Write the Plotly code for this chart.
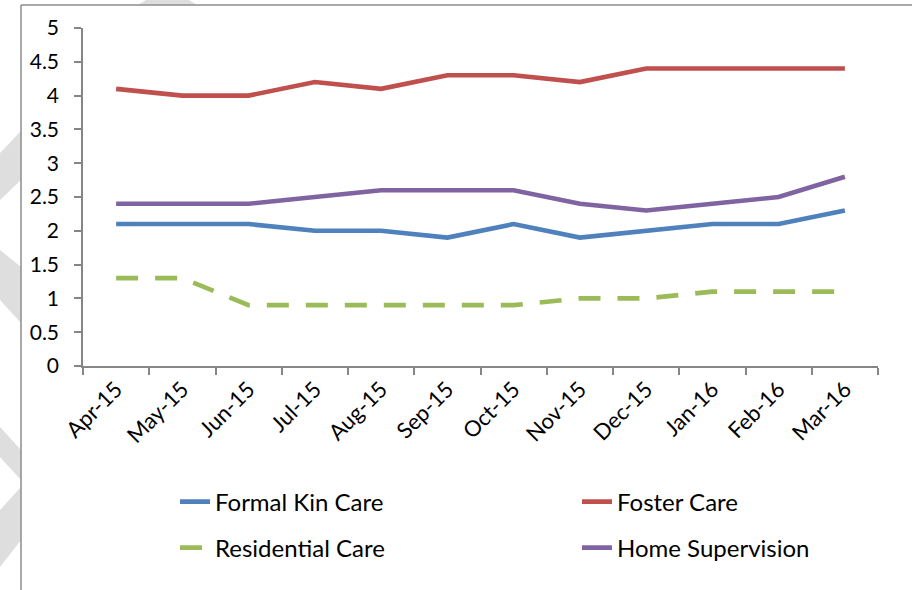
import plotly.graph_objects as go

# ---- data ----
months = ["Apr-15", "May-15", "Jun-15", "Jul-15", "Aug-15", "Sep-15",
          "Oct-15", "Nov-15", "Dec-15", "Jan-16", "Feb-16", "Mar-16"]
formal_kin_care = [2.1, 2.1, 2.1, 2.0, 2.0, 1.9, 2.1, 1.9, 2.0, 2.1, 2.1, 2.3]
foster_care = [4.1, 4.0, 4.0, 4.2, 4.1, 4.3, 4.3, 4.2, 4.4, 4.4, 4.4, 4.4]
residential_care = [1.3, 1.3, 0.9, 0.9, 0.9, 0.9, 0.9, 1.0, 1.0, 1.1, 1.1, 1.1]
home_supervision = [2.4, 2.4, 2.4, 2.5, 2.6, 2.6, 2.6, 2.4, 2.3, 2.4, 2.5, 2.8]
y_ticks = [0, 0.5, 1, 1.5, 2, 2.5, 3, 3.5, 4, 4.5, 5]
y_tick_text = ["0", "0.5", "1", "1.5", "2", "2.5", "3", "3.5", "4", "4.5", "5"]

# ---- layout geometry (pixels) ----
W, H = 912, 590
PL, PR, PT, PB = 83, 878, 28, 366
FONT = "Lato, 'Open Sans', sans-serif"
AXIS_COL = "#868686"
STRIPE = "#dedede"


def px(xp):
    return (xp - PL) / (PR - PL)


def py(yp):
    return (PB - yp) / (PB - PT)


fig = go.Figure()
series = [
    ("Formal Kin Care", formal_kin_care, "#4F81BD", "solid", "legend", 175, 502),
    ("Foster Care", foster_care, "#C0504D", "solid", "legend2", 577, 502),
    ("Residential Care", residential_care, "#9BBB59", "22px,17px", "legend3", 175, 548),
    ("Home Supervision", home_supervision, "#8064A2", "solid", "legend4", 577, 548),
]
legend_common = dict(
    orientation="h", xref="container", yref="container",
    xanchor="left", yanchor="middle",
    font=dict(family=FONT, size=24, color="#000000"),
    bgcolor="rgba(0,0,0,0)", borderwidth=0,
)
legends = {}
for name, vals, col, dash, leg, lx, ly in series:
    fig.add_trace(go.Scatter(
        x=months, y=vals, name=name, mode="lines",
        line=dict(color=col, width=4.6, dash=dash),
        legend=leg,
    ))
    legends[leg] = dict(x=lx / W, y=1 - ly / H, **legend_common)


def poly(pts):
    d = "M " + " L ".join(f"{px(a):.5f},{py(b):.5f}" for a, b in pts) + " Z"
    return dict(type="path", xref="paper", yref="paper", path=d,
                fillcolor=STRIPE, line=dict(width=0), layer="below")


shapes = [
    poly([(138, 5), (146, 0), (189, 0), (197, 5)]),
    poly([(0, 153), (21, 131), (21, 180), (0, 200)]),
    poly([(0, 250), (21, 267), (21, 323), (0, 300)]),
    poly([(0, 427), (21, 450), (21, 480), (0, 457)]),
    poly([(21, 487), (0, 510), (0, 567), (21, 540)]),
    dict(type="line", xref="paper", yref="paper", x0=px(21), x1=px(21),
         y0=py(5), y1=py(600), line=dict(color="#8c8c8c", width=1.5)),
    dict(type="line", xref="paper", yref="paper", x0=px(21), x1=px(930),
         y0=py(5), y1=py(5), line=dict(color="#8c8c8c", width=1.5)),
]

fig.update_layout(
    width=W, height=H,
    margin=dict(l=PL, r=W - PR, t=PT, b=H - PB, pad=0, autoexpand=False),
    paper_bgcolor="white", plot_bgcolor="white",
    font=dict(family=FONT, color="#000000"),
    showlegend=True,
    shapes=shapes,
    xaxis=dict(
        type="category", range=[-0.5, len(months) - 0.5],
        showgrid=False, zeroline=False, automargin=False,
        showline=True, linecolor=AXIS_COL, linewidth=1.5,
        ticks="outside", tickson="boundaries", ticklen=7,
        tickcolor=AXIS_COL, tickwidth=1.5, tickangle=-45,
        tickfont=dict(family=FONT, size=22, color="#000000"),
    ),
    yaxis=dict(
        range=[0, 5], tickvals=y_ticks, ticktext=y_tick_text,
        showgrid=False, zeroline=False, automargin=False,
        showline=True, linecolor=AXIS_COL, linewidth=1.5,
        ticks="outside", ticklen=7, tickcolor=AXIS_COL, tickwidth=1.5,
        tickfont=dict(family=FONT, size=21, color="#000000"),
        ticklabelstandoff=11,
    ),
    **legends,
)

fig.write_html("out.html",
               config={"displayModeBar": False},
               post_script="document.body.style.margin='0';")
